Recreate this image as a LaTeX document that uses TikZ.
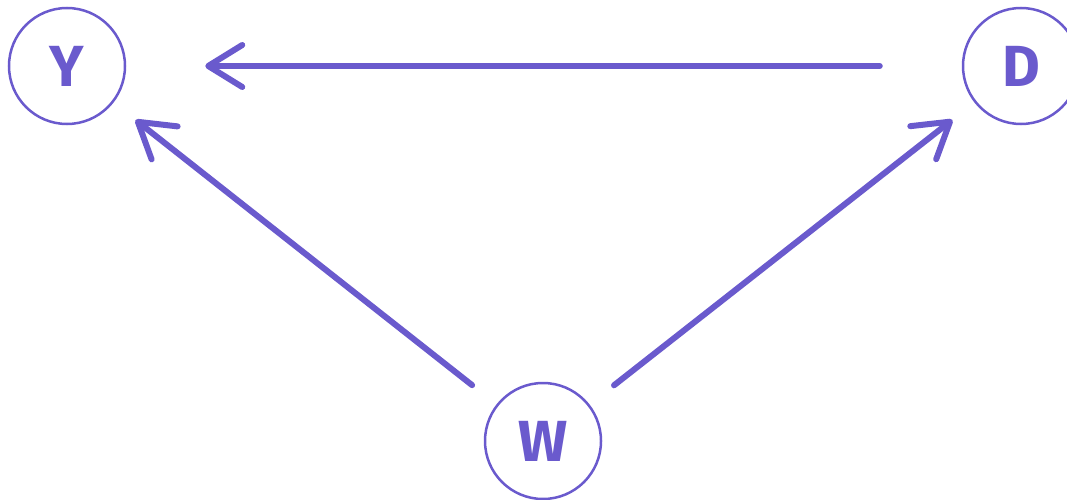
\documentclass[tikz,border=0pt]{standalone}
\usepackage{fontspec}
\setmainfont{Fira Sans}
\usetikzlibrary{arrows.meta}
\definecolor{slate}{RGB}{106,90,205}
\tikzset{
  var/.style={circle, draw=slate, line width=2.5pt, minimum size=116pt, inner sep=0pt,
    text=slate, font=\fontsize{58}{60}\bfseries\selectfont},
  link/.style={draw=slate, line width=6pt, line cap=round,
    -{Straight Barb[length=34pt, width=42pt, line cap=round, line join=round]}}
}
\begin{document}
\begin{tikzpicture}[x=1pt, y=-1pt]
  \useasboundingbox (0,0) rectangle (1067,500);
  \node[var] (Y) at (67,66) {Y};
  \node[var] (D) at (1021,66) {D};
  \node[var] (W) at (543,441) {W};
  \draw[link, shorten <=82pt, shorten >=79pt] (D) -- (Y);
  \draw[link, shorten <=31pt, shorten >=28pt] (W) -- (Y);
  \draw[link, shorten <=31pt, shorten >=28pt] (W) -- (D);
\end{tikzpicture}
\end{document}
